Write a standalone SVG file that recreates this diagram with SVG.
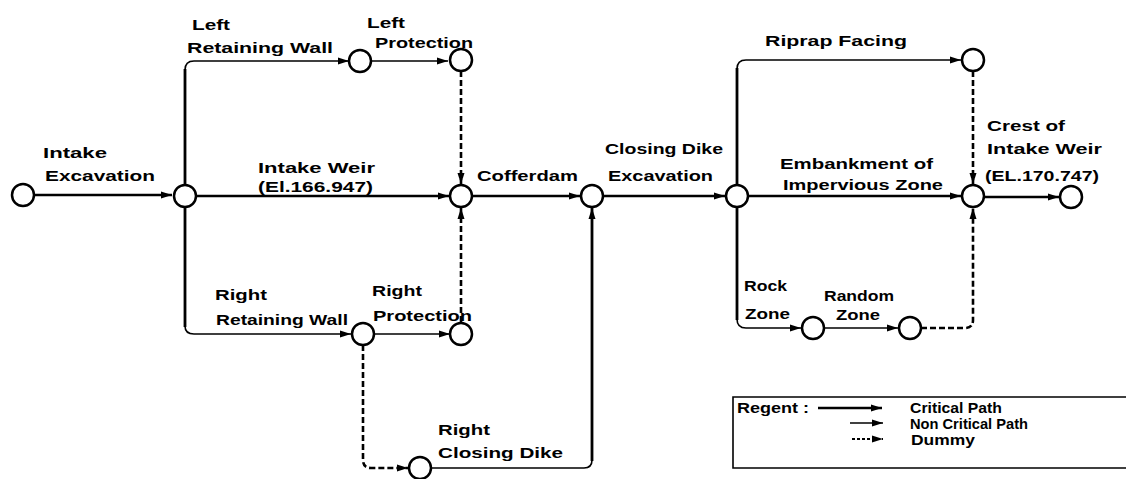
<svg xmlns="http://www.w3.org/2000/svg" width="1126" height="479" viewBox="0 0 1126 479">
<style>
  .node { fill: #fff; stroke: #000; stroke-width: 2.5; }
  .crit { fill: none; stroke: #000; stroke-width: 2.6; }
  .non { fill: none; stroke: #000; stroke-width: 1.6; }
  .trunk { fill: none; stroke: #000; stroke-width: 2.8; }
  .dummy { fill: none; stroke: #000; stroke-width: 2.6; stroke-dasharray: 6 3; }
  .lbl { font-family: "Liberation Sans", Arial, sans-serif; font-weight: bold; font-size: 15px; fill: #000; }
  .box { fill: none; stroke: #000; stroke-width: 1.6; }
</style>
<defs>
  <marker id="ah" markerUnits="userSpaceOnUse" markerWidth="12" markerHeight="10" refX="11" refY="4" orient="auto">
    <path d="M0,0.5 L11,4 L0,7.5 z" fill="#000"/>
  </marker>
</defs>
<rect width="1126" height="479" fill="#fff"/>

<g id="connectors">
  <path class="trunk" d="M185,69 V327"/>
  <path class="trunk" d="M737,68 V320"/>
  <path class="crit" d="M34,195 H172" marker-end="url(#ah)"/>
  <path class="non" d="M185,70 Q185,61 194,61 H349" marker-end="url(#ah)"/>
  <path class="non" d="M371,61 H448" marker-end="url(#ah)"/>
  <path class="crit" d="M196,196 H449" marker-end="url(#ah)"/>
  <path class="non" d="M185,326 Q185,334 194,334 H351" marker-end="url(#ah)"/>
  <path class="non" d="M374,334 H450" marker-end="url(#ah)"/>
  <path class="dummy" d="M461,71 V184" marker-end="url(#ah)"/>
  <path class="dummy" d="M461,322 V208" marker-end="url(#ah)"/>
  <path class="crit" d="M472,196 H580" marker-end="url(#ah)"/>
  <path class="dummy" d="M363,345 V460 Q363,468 371,468 H408" marker-end="url(#ah)"/>
  <path class="non" d="M431,468 H584 Q592,468 592,460"/>
  <path class="trunk" d="M592,461 V208" marker-end="url(#ah)"/>
  <path class="crit" d="M603,196 H725" marker-end="url(#ah)"/>
  <path class="non" d="M737,69 Q737,60 746,60 H961" marker-end="url(#ah)"/>
  <path class="crit" d="M748,196 H961" marker-end="url(#ah)"/>
  <path class="non" d="M737,319 Q737,328 746,328 H801" marker-end="url(#ah)"/>
  <path class="non" d="M824,328 H898" marker-end="url(#ah)"/>
  <path class="dummy" d="M973,71 V184" marker-end="url(#ah)"/>
  <path class="dummy" d="M921,328 H965 Q973,328 973,320 V208" marker-end="url(#ah)"/>
  <path class="crit" d="M984,197 H1059" marker-end="url(#ah)"/>
</g>

<g id="n1"><circle class="node" cx="23" cy="195" r="11"/></g>
<g id="n2"><circle class="node" cx="185" cy="196" r="11"/></g>
<g id="n3"><circle class="node" cx="360" cy="61" r="11"/></g>
<g id="n4"><circle class="node" cx="461" cy="60" r="11"/></g>
<g id="n5"><circle class="node" cx="461" cy="196" r="11"/></g>
<g id="n6"><circle class="node" cx="363" cy="334" r="11"/></g>
<g id="n7"><circle class="node" cx="461" cy="334" r="11"/></g>
<g id="n8"><circle class="node" cx="592" cy="196" r="11"/></g>
<g id="n9"><circle class="node" cx="420" cy="468" r="11"/></g>
<g id="n10"><circle class="node" cx="737" cy="196" r="11"/></g>
<g id="n11"><circle class="node" cx="973" cy="60" r="11"/></g>
<g id="n12"><circle class="node" cx="973" cy="196" r="11"/></g>
<g id="n13"><circle class="node" cx="1071" cy="197" r="11"/></g>
<g id="n14"><circle class="node" cx="813" cy="328" r="11"/></g>
<g id="n15"><circle class="node" cx="910" cy="328" r="11"/></g>

<g id="labels">
  <text class="lbl" x="43" y="158" textLength="64" lengthAdjust="spacingAndGlyphs">Intake</text>
  <text class="lbl" x="45" y="181" textLength="110" lengthAdjust="spacingAndGlyphs">Excavation</text>
  <text class="lbl" x="192" y="30" textLength="38" lengthAdjust="spacingAndGlyphs">Left</text>
  <text class="lbl" x="187" y="53" textLength="146" lengthAdjust="spacingAndGlyphs">Retaining Wall</text>
  <text class="lbl" x="367" y="28" textLength="38" lengthAdjust="spacingAndGlyphs">Left</text>
  <text class="lbl" x="375" y="48" textLength="98" lengthAdjust="spacingAndGlyphs">Protection</text>
  <text class="lbl" x="258" y="173" textLength="117" lengthAdjust="spacingAndGlyphs">Intake Weir</text>
  <text class="lbl" x="258" y="192" textLength="115" lengthAdjust="spacingAndGlyphs">(El.166.947)</text>
  <text class="lbl" x="477" y="181" textLength="101" lengthAdjust="spacingAndGlyphs">Cofferdam</text>
  <text class="lbl" x="605" y="154" textLength="118" lengthAdjust="spacingAndGlyphs">Closing Dike</text>
  <text class="lbl" x="608" y="181" textLength="105" lengthAdjust="spacingAndGlyphs">Excavation</text>
  <text class="lbl" x="765" y="46" textLength="142" lengthAdjust="spacingAndGlyphs">Riprap Facing</text>
  <text class="lbl" x="780" y="169" textLength="153" lengthAdjust="spacingAndGlyphs">Embankment of</text>
  <text class="lbl" x="783" y="190" textLength="160" lengthAdjust="spacingAndGlyphs">Impervious Zone</text>
  <text class="lbl" x="987" y="131" textLength="78" lengthAdjust="spacingAndGlyphs">Crest of</text>
  <text class="lbl" x="987" y="154" textLength="115" lengthAdjust="spacingAndGlyphs">Intake Weir</text>
  <text class="lbl" x="985" y="181" textLength="114" lengthAdjust="spacingAndGlyphs">(EL.170.747)</text>
  <text class="lbl" x="215" y="300" textLength="52" lengthAdjust="spacingAndGlyphs">Right</text>
  <text class="lbl" x="216" y="325" textLength="132" lengthAdjust="spacingAndGlyphs">Retaining Wall</text>
  <text class="lbl" x="372" y="296" textLength="50" lengthAdjust="spacingAndGlyphs">Right</text>
  <text class="lbl" x="373" y="321" textLength="99" lengthAdjust="spacingAndGlyphs">Protection</text>
  <text class="lbl" x="438" y="435" textLength="52" lengthAdjust="spacingAndGlyphs">Right</text>
  <text class="lbl" x="438" y="458" textLength="125" lengthAdjust="spacingAndGlyphs">Closing Dike</text>
  <text class="lbl" x="744" y="291" textLength="43" lengthAdjust="spacingAndGlyphs">Rock</text>
  <text class="lbl" x="745" y="319" textLength="45" lengthAdjust="spacingAndGlyphs">Zone</text>
  <text class="lbl" x="824" y="301" textLength="70" lengthAdjust="spacingAndGlyphs">Random</text>
  <text class="lbl" x="836" y="320" textLength="44" lengthAdjust="spacingAndGlyphs">Zone</text>
</g>

<g id="legend">
  <path class="box" d="M1126,397 H733 V468 H1126"/>
  <text class="lbl" x="737" y="413" textLength="72" lengthAdjust="spacingAndGlyphs">Regent :</text>
  <path class="crit" d="M818,408 H882" marker-end="url(#ah)"/>
  <text class="lbl" x="910" y="413" textLength="92" lengthAdjust="spacingAndGlyphs">Critical Path</text>
  <path class="non" d="M850,423 H883" marker-end="url(#ah)"/>
  <text class="lbl" x="910" y="429" textLength="118" lengthAdjust="spacingAndGlyphs">Non Critical Path</text>
  <path class="dummy" style="stroke-width:1.8;stroke-dasharray:3 2" d="M852,439 H883" marker-end="url(#ah)"/>
  <text class="lbl" x="911" y="445" textLength="64" lengthAdjust="spacingAndGlyphs">Dummy</text>
</g>
</svg>
